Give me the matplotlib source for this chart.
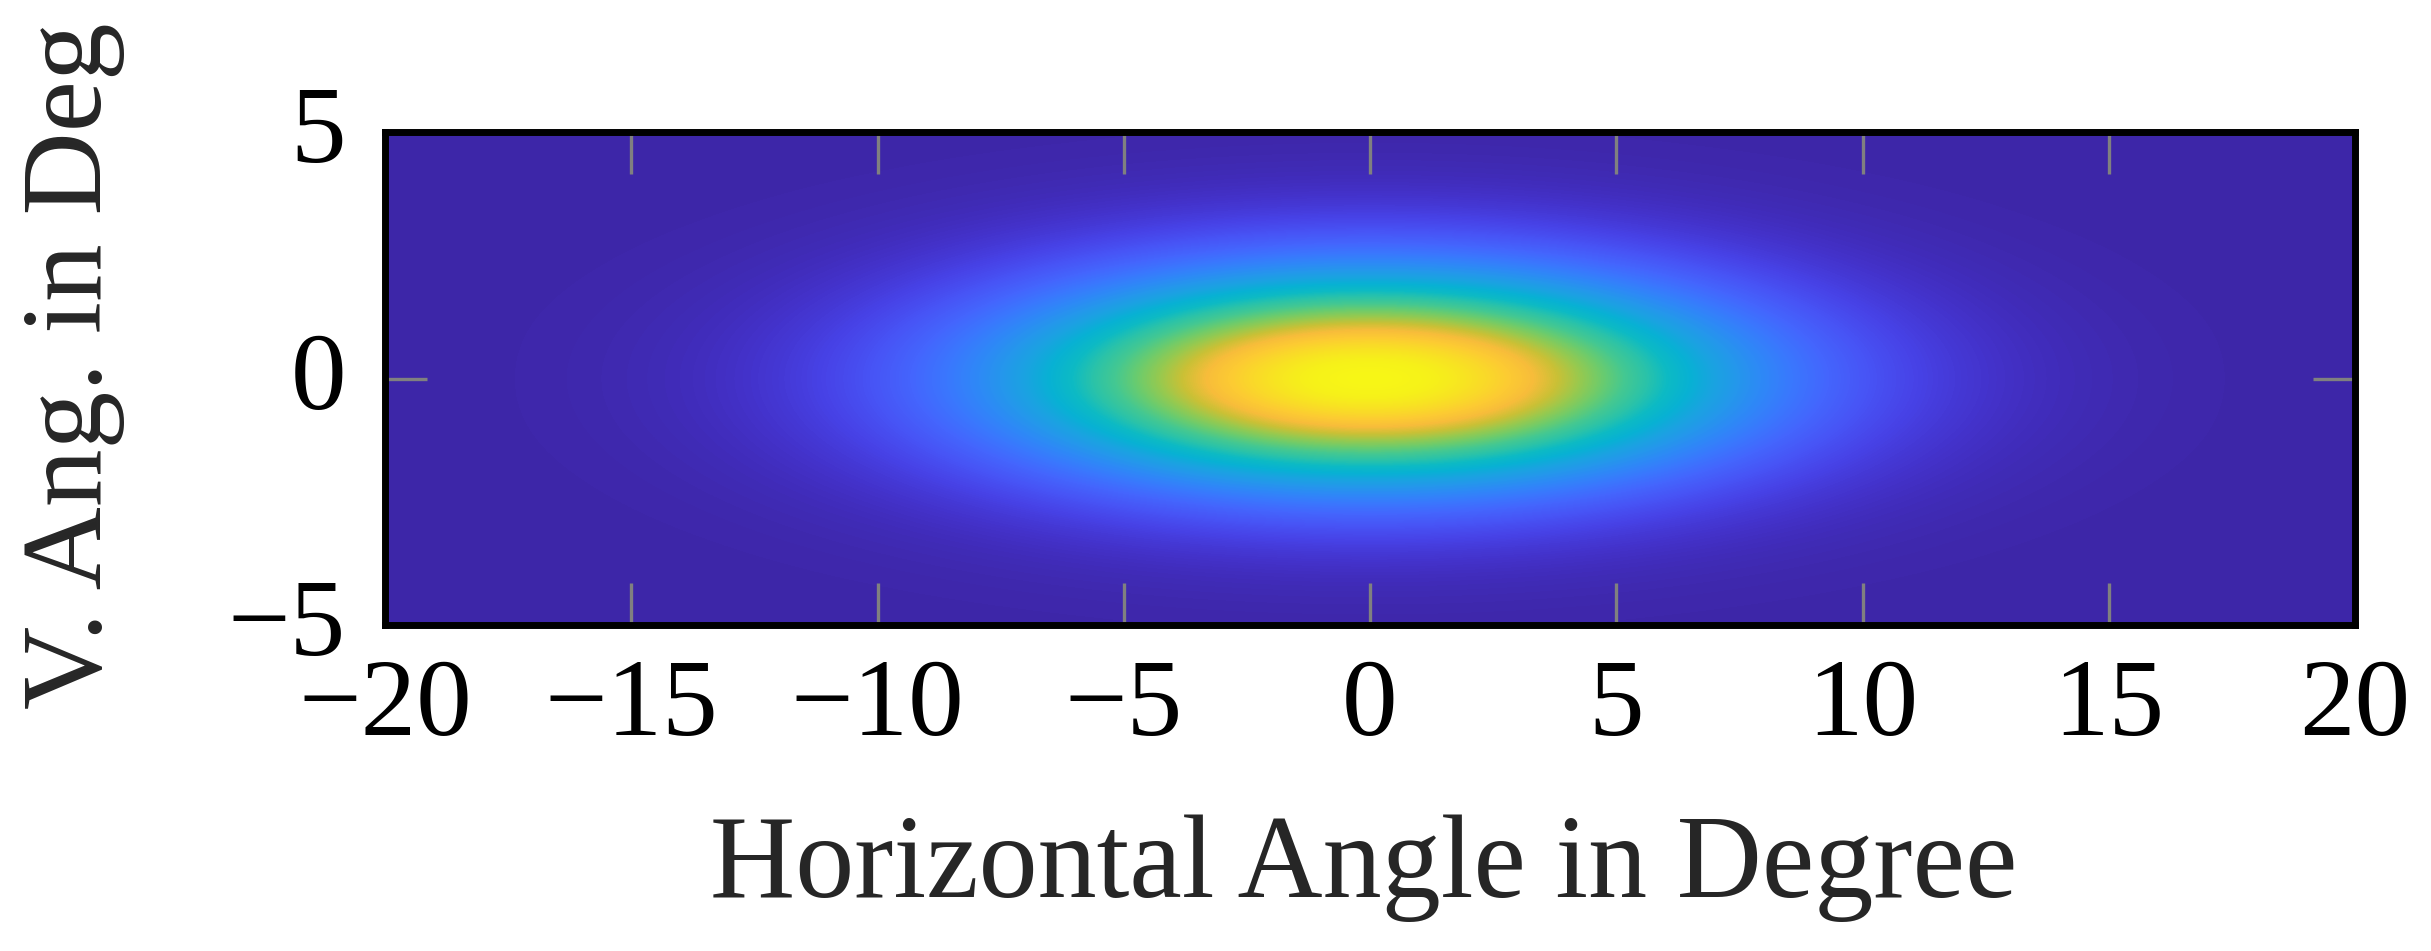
import numpy as np
import matplotlib

matplotlib.use("Agg")
import matplotlib.pyplot as plt
import matplotlib.transforms as mtransforms
from matplotlib.colors import LinearSegmentedColormap

# beam intensity: profile along the horizontal axis (at 0 deg V)
h_angle = np.arange(-20, 21, 1)
h_profile = [0.001, 0.001, 0.002, 0.005, 0.009, 0.016, 0.027, 0.044, 0.07, 0.107, 0.157,
             0.224, 0.306, 0.404, 0.514, 0.63, 0.744, 0.847, 0.929, 0.982, 1.0,
             0.982, 0.929, 0.847, 0.744, 0.63, 0.514, 0.404, 0.306, 0.224, 0.157,
             0.107, 0.07, 0.044, 0.027, 0.016, 0.009, 0.005, 0.002, 0.001, 0.001]

# profile along the vertical axis (at 0 deg H)
v_angle = np.arange(-5.0, 5.01, 0.5)
v_profile = [0.004, 0.012, 0.031, 0.071, 0.143, 0.259, 0.421, 0.614, 0.805, 0.947, 1.0,
             0.947, 0.805, 0.614, 0.421, 0.259, 0.143, 0.071, 0.031, 0.012, 0.004]

x_ticks = [-20, -15, -10, -5, 0, 5, 10, 15, 20]
y_ticks = [-5, 0, 5]

# parula-like colormap
parula_pts = [
    (0.00, (0.2422, 0.1504, 0.6603)),
    (0.05, (0.2645, 0.1972, 0.7937)),
    (0.10, (0.2788, 0.2598, 0.9035)),
    (0.15, (0.2807, 0.3313, 0.9636)),
    (0.20, (0.2670, 0.3973, 0.9924)),
    (0.25, (0.2300, 0.4650, 0.9960)),
    (0.30, (0.1850, 0.5300, 0.9700)),
    (0.35, (0.1450, 0.5900, 0.9250)),
    (0.40, (0.1000, 0.6400, 0.8800)),
    (0.45, (0.0300, 0.6950, 0.8300)),
    (0.50, (0.0500, 0.7300, 0.7700)),
    (0.55, (0.1700, 0.7650, 0.6600)),
    (0.60, (0.2700, 0.7850, 0.5700)),
    (0.65, (0.4200, 0.8000, 0.4300)),
    (0.70, (0.5900, 0.7900, 0.3100)),
    (0.75, (0.7900, 0.7550, 0.2100)),
    (0.80, (0.9700, 0.7400, 0.2300)),
    (0.845, (0.9900, 0.7950, 0.2000)),
    (0.90, (0.9750, 0.8750, 0.1450)),
    (0.95, (0.9650, 0.9450, 0.1000)),
    (1.00, (0.9769, 0.9839, 0.0805)),
]
parula = LinearSegmentedColormap.from_list("parula", parula_pts, N=256)

plt.rcParams["font.family"] = ["Liberation Serif", "DejaVu Serif"]
plt.rcParams["axes.unicode_minus"] = True

intensity = np.outer(np.asarray(v_profile), np.asarray(h_profile))
dx = h_angle[1] - h_angle[0]
dy = v_angle[1] - v_angle[0]

fig = plt.figure(figsize=(24.31, 9.51), dpi=100)
ax = fig.add_axes([385 / 2431, 1 - 625 / 951, 1970 / 2431, 493 / 951])
ax.imshow(intensity, cmap=parula, vmin=0.0, vmax=1.0, origin="lower",
          interpolation="bicubic", aspect="auto",
          extent=[h_angle[0] - dx / 2, h_angle[-1] + dx / 2,
                  v_angle[0] - dy / 2, v_angle[-1] + dy / 2])
ax.set_xlim(-20, 20)
ax.set_ylim(-5, 5)

ax.set_xticks(x_ticks)
ax.set_yticks(y_ticks)
ax.tick_params(direction="in", length=30, width=2.4, color="#808080",
               top=True, right=True, labelsize=80, labelcolor="black")
ax.tick_params(axis="x", pad=24)
ax.tick_params(axis="y", pad=28)
for spine in ax.spines.values():
    spine.set_linewidth(5.0)
    spine.set_color("black")
    spine.set_zorder(3)

# y tick labels sit a little above their ticks, as in the original
lift = mtransforms.ScaledTranslation(0, 8 / 100, fig.dpi_scale_trans)
for lab in ax.get_yticklabels():
    lab.set_transform(lab.get_transform() + lift)

ax.set_xlabel("Horizontal Angle in Degree", fontsize=85, color="#262626")
ax.xaxis.set_label_coords(0.497, -0.385)
ax.set_ylabel("V. Ang. in Deg", fontsize=83, color="#262626")
ax.yaxis.set_label_coords(-0.132, 0.525)

fig.savefig("out.png", dpi=100)
